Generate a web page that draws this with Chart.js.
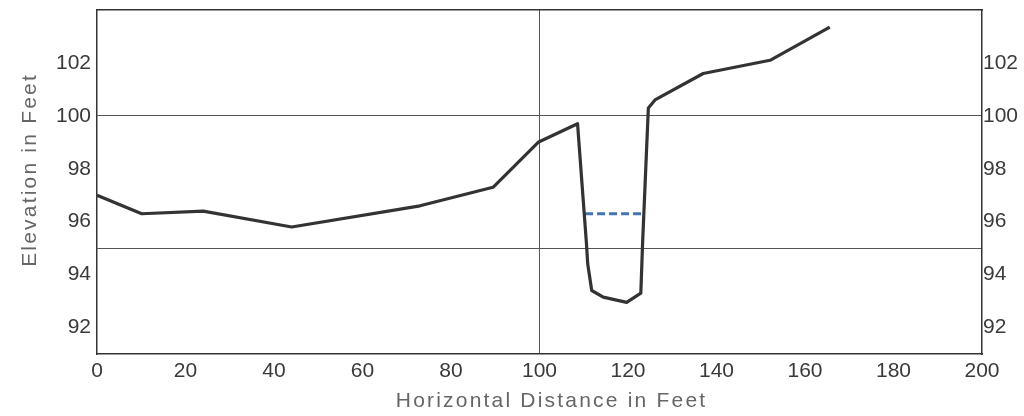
<!DOCTYPE html>
<html>
<head>
<meta charset="utf-8">
<script src="https://cdn.jsdelivr.net/npm/chart.js@4"></script>
<style>
  html, body { margin: 0; padding: 0; background: #fff; }
</style>
</head>
<body>
<canvas id="profile" width="1024" height="416"></canvas>
<script>
// ground profile
const groundX = [0, 10.1, 24, 44, 73, 89.5, 99.7, 108.6, 110.6, 110.9, 111.8, 114.4, 119.7, 122.9, 123.3, 124.6, 126.1, 137, 152.1, 165.6];
const groundY = [97.0, 96.3, 96.4, 95.8, 96.6, 97.3, 99.0, 99.7, 95.2, 94.4, 93.4, 93.15, 92.95, 93.3, 95.2, 100.3, 100.6, 101.6, 102.1, 103.35];

// water surface
const waterX = [110.3, 123.6];
const waterY = [96.3, 96.3];

const xTicks = [0, 20, 40, 60, 80, 100, 120, 140, 160, 180, 200];
const yTicks = [92, 94, 96, 98, 100, 102];
const gridX = [100];
const gridY = [95, 100];

const toPoints = (xs, ys) => xs.map((x, i) => ({ x: x, y: ys[i] }));

const inkColor = '#333';
const tickFont = { family: "'Liberation Sans', Arial, sans-serif", size: 21 };
const titleFont = { family: "'Liberation Sans', Arial, sans-serif", size: 21 };

const yTickValues = [...yTicks, ...gridY].filter((v, i, a) => a.indexOf(v) === i).sort((a, b) => a - b);

// axis titles are typeset with wide tracking; tick labels (z:1) are drawn after datasets without it
const trackingPlugin = {
    id: 'tracking',
    beforeDraw: chart => { chart.ctx.letterSpacing = '2.2px'; },
    beforeDatasetsDraw: chart => { chart.ctx.letterSpacing = '0px'; }
};

const noLabelPad = axis => { axis.paddingTop = 0; axis.paddingBottom = 0; };

new Chart(document.getElementById('profile'), {
    type: 'line',
    data: {
        datasets: [
            {
                label: 'Ground',
                data: toPoints(groundX, groundY),
                borderColor: '#333',
                borderWidth: 3.2,
                borderJoinStyle: 'round',
                pointRadius: 0,
                tension: 0,
                xAxisID: 'x',
                yAxisID: 'y'
            },
            {
                label: 'Water',
                data: toPoints(waterX, waterY),
                borderColor: '#4474ae',
                borderWidth: 3,
                borderDash: [8, 4],
                pointRadius: 0,
                xAxisID: 'x',
                yAxisID: 'y'
            }
        ]
    },
    options: {
        responsive: false,
        animation: false,
        events: [],
        layout: { padding: { top: 10, left: 0, right: 0, bottom: 0 } },
        plugins: {
            legend: { display: false },
            tooltip: { enabled: false }
        },
        scales: {
            x: {
                type: 'linear',
                position: 'bottom',
                min: 0,
                max: 200,
                afterBuildTicks: axis => { axis.ticks = xTicks.map(v => ({ value: v })); },
                afterFit: axis => { axis.height = 62; },
                ticks: {
                    color: '#3a3a3a',
                    font: tickFont,
                    padding: 5,
                    maxRotation: 0,
                    autoSkip: false,
                    z: 1
                },
                grid: {
                    drawTicks: false,
                    color: ctx => gridX.includes(ctx.tick && ctx.tick.value) ? '#555' : 'rgba(0,0,0,0)',
                    lineWidth: 1
                },
                border: { display: true, color: inkColor, width: 1.5 },
                title: {
                    display: true,
                    text: '   Horizontal Distance in Feet',
                    color: '#666',
                    font: titleFont,
                    padding: { top: 0, bottom: 2 }
                }
            },
            x2: {
                type: 'linear',
                position: 'top',
                min: 0,
                max: 200,
                afterFit: axis => { axis.height = 0; },
                ticks: { display: false },
                grid: { display: false },
                border: { display: true, color: inkColor, width: 1.5 }
            },
            y: {
                type: 'linear',
                position: 'left',
                min: 91,
                max: 104,
                afterBuildTicks: axis => { axis.ticks = yTickValues.map(v => ({ value: v })); },
                afterFit: axis => { axis.width = 97; noLabelPad(axis); },
                ticks: {
                    color: '#3a3a3a',
                    font: tickFont,
                    padding: 6,
                    autoSkip: false,
                    z: 1,
                    callback: v => yTicks.includes(v) ? String(v) : ''
                },
                grid: {
                    drawTicks: false,
                    color: ctx => gridY.includes(ctx.tick && ctx.tick.value) ? '#555' : 'rgba(0,0,0,0)',
                    lineWidth: 1
                },
                border: { display: true, color: inkColor, width: 1.5 },
                title: {
                    display: true,
                    text: '   Elevation in Feet',
                    color: '#666',
                    font: titleFont,
                    padding: { top: 18, bottom: 0 }
                }
            },
            y2: {
                type: 'linear',
                position: 'right',
                min: 91,
                max: 104,
                afterBuildTicks: axis => { axis.ticks = yTicks.map(v => ({ value: v })); },
                afterFit: axis => { axis.width = 42; noLabelPad(axis); },
                ticks: {
                    color: '#3a3a3a',
                    font: tickFont,
                    padding: 1,
                    autoSkip: false,
                    z: 1
                },
                grid: { display: false, drawTicks: false },
                border: { display: true, color: inkColor, width: 1.5 }
            }
        }
    },
    plugins: [trackingPlugin]
});
</script>
</body>
</html>
